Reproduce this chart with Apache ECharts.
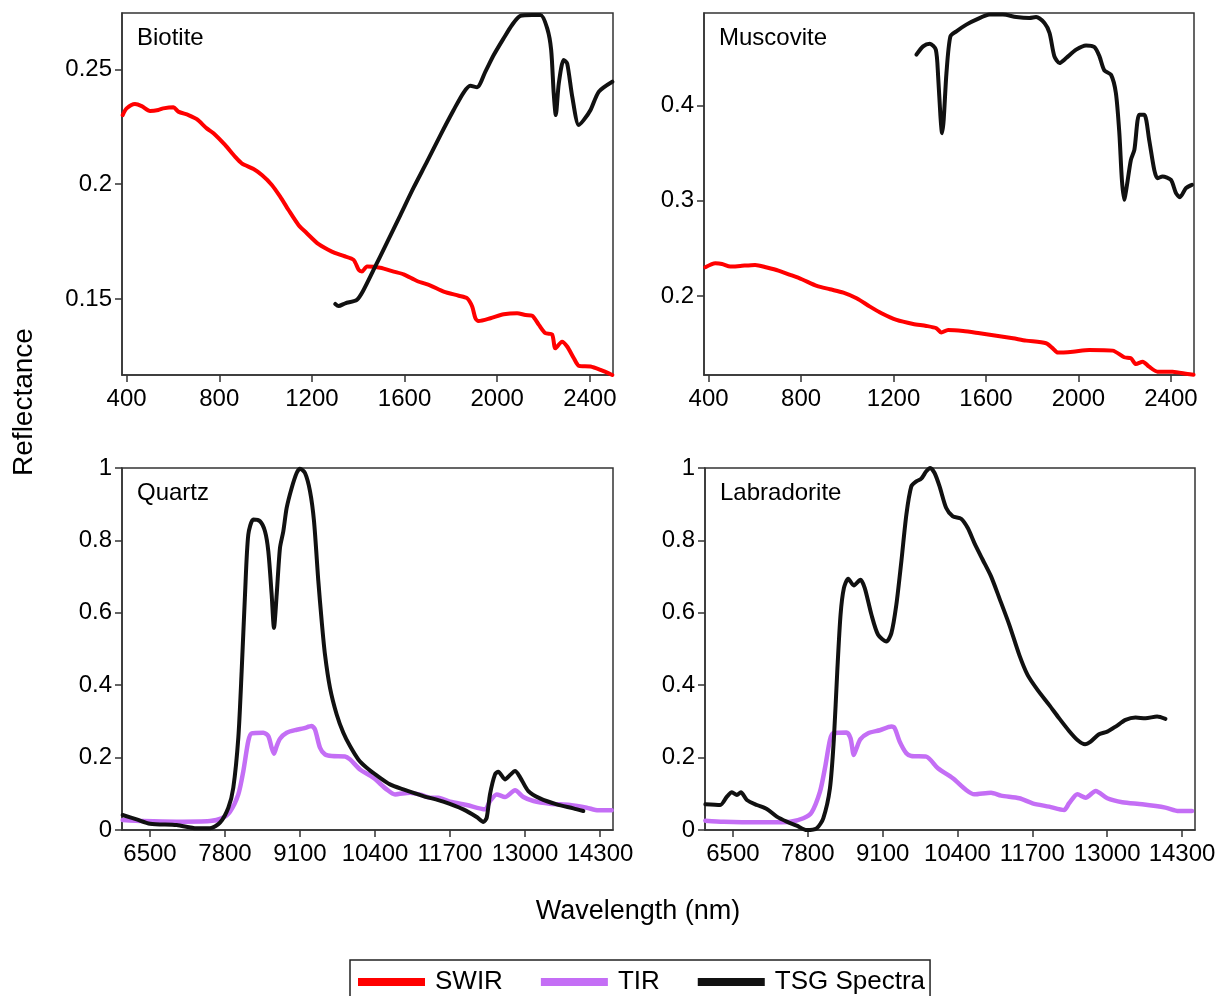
<!DOCTYPE html>
<html>
<head>
<meta charset="utf-8">
<script src="https://cdn.jsdelivr.net/npm/echarts@6/dist/echarts.min.js"></script>
<style>
  html, body { margin: 0; padding: 0; background: #fff; }
  #chart { width: 1220px; height: 996px; }
</style>
</head>
<body>
<div id="chart"></div>
<script>
// Biotite
const biotiteSwirWl = [383, 400, 436, 465, 501, 537, 558, 602, 623, 667, 703, 746, 775, 825, 868, 897, 948, 984, 1027, 1063, 1099, 1142, 1178, 1229, 1286, 1337, 1380, 1402, 1416, 1438, 1495, 1553, 1596, 1654, 1712, 1769, 1834, 1870, 1892, 1906, 1920, 1971, 2028, 2086, 2122, 2151, 2180, 2208, 2237, 2251, 2280, 2302, 2331, 2353, 2403, 2446, 2497]
const biotiteSwirR = [0.2301, 0.2330, 0.2349, 0.2340, 0.2319, 0.2323, 0.2330, 0.2335, 0.2316, 0.2301, 0.2283, 0.2243, 0.2222, 0.2171, 0.2120, 0.2091, 0.2066, 0.2040, 0.1997, 0.1946, 0.1888, 0.1823, 0.1787, 0.1739, 0.1707, 0.1688, 0.1671, 0.1627, 0.1620, 0.1642, 0.1637, 0.1620, 0.1608, 0.1579, 0.1559, 0.1533, 0.1515, 0.1504, 0.1468, 0.1417, 0.1405, 0.1417, 0.1434, 0.1439, 0.1431, 0.1428, 0.1388, 0.1352, 0.1347, 0.1286, 0.1315, 0.1294, 0.1243, 0.1210, 0.1207, 0.1192, 0.1170]
const biotiteTsgWl = [1301, 1315, 1344, 1394, 1423, 1466, 1524, 1582, 1639, 1697, 1755, 1812, 1855, 1884, 1913, 1949, 1985, 2028, 2064, 2100, 2151, 2187, 2216, 2233, 2244, 2253, 2266, 2287, 2302, 2324, 2352, 2374, 2403, 2439, 2497]
const biotiteTsgR = [0.1479, 0.1470, 0.1482, 0.1497, 0.1540, 0.1627, 0.1746, 0.1866, 0.1985, 0.2098, 0.2214, 0.2323, 0.2399, 0.2428, 0.2422, 0.2490, 0.2562, 0.2635, 0.2693, 0.2732, 0.2736, 0.2736, 0.2678, 0.2584, 0.2396, 0.2301, 0.2439, 0.2541, 0.2526, 0.2381, 0.2258, 0.2280, 0.2323, 0.2403, 0.2446]

// Muscovite
const muscoviteSwirWl = [386, 429, 458, 494, 537, 601, 652, 702, 753, 803, 868, 925, 983, 1040, 1098, 1148, 1213, 1285, 1342, 1386, 1407, 1436, 1501, 1573, 1645, 1717, 1774, 1860, 1889, 1911, 1976, 2047, 2148, 2198, 2227, 2249, 2278, 2306, 2342, 2407, 2472, 2498]
const muscoviteSwirR = [0.2301, 0.2343, 0.2336, 0.2308, 0.2315, 0.2326, 0.2298, 0.2266, 0.2221, 0.2175, 0.2105, 0.2070, 0.2035, 0.1976, 0.1888, 0.1818, 0.1748, 0.1706, 0.1685, 0.1660, 0.1615, 0.1643, 0.1632, 0.1608, 0.1583, 0.1555, 0.1531, 0.1503, 0.1450, 0.1405, 0.1415, 0.1433, 0.1426, 0.1356, 0.1345, 0.1285, 0.1310, 0.1257, 0.1205, 0.1205, 0.1180, 0.1172]
const muscoviteTsgWl = [1299, 1328, 1357, 1383, 1393, 1403, 1410, 1417, 1429, 1446, 1472, 1515, 1558, 1616, 1673, 1731, 1788, 1817, 1853, 1875, 1896, 1918, 1947, 1990, 2033, 2069, 2091, 2112, 2141, 2162, 2177, 2188, 2198, 2209, 2227, 2242, 2263, 2285, 2306, 2328, 2342, 2364, 2400, 2422, 2439, 2465, 2491]
const muscoviteTsgR = [0.4532, 0.4620, 0.4648, 0.4585, 0.4305, 0.3884, 0.3709, 0.3849, 0.4340, 0.4725, 0.4778, 0.4848, 0.4900, 0.4953, 0.4953, 0.4928, 0.4918, 0.4928, 0.4865, 0.4760, 0.4515, 0.4445, 0.4497, 0.4585, 0.4630, 0.4613, 0.4515, 0.4368, 0.4322, 0.4130, 0.3709, 0.3219, 0.3009, 0.3149, 0.3429, 0.3534, 0.3902, 0.3902, 0.3639, 0.3324, 0.3236, 0.3254, 0.3219, 0.3079, 0.3037, 0.3131, 0.3166]

// Quartz
const quartzTirWl = [6026, 6384, 6962, 7540, 7742, 7887, 8031, 8118, 8204, 8262, 8464, 8551, 8609, 8649, 8696, 8753, 8869, 9042, 9158, 9302, 9360, 9447, 9533, 9649, 9880, 9967, 10140, 10371, 10602, 10747, 11007, 11209, 11353, 11498, 11700, 11989, 12307, 12393, 12509, 12653, 12827, 12971, 13147, 13433, 13780, 14069, 14271, 14502]
const quartzTirR = [0.0276, 0.0248, 0.0230, 0.0248, 0.0322, 0.0506, 0.0984, 0.1628, 0.2456, 0.2668, 0.2686, 0.2594, 0.2272, 0.2107, 0.2318, 0.2521, 0.2686, 0.2769, 0.2806, 0.2870, 0.2778, 0.2272, 0.2088, 0.2042, 0.2033, 0.1950, 0.1674, 0.1444, 0.1122, 0.0984, 0.1030, 0.0966, 0.0892, 0.0892, 0.0782, 0.0690, 0.0570, 0.0800, 0.0984, 0.0911, 0.1095, 0.0911, 0.0800, 0.0727, 0.0690, 0.0616, 0.0543, 0.0543]
const quartzTsgWl = [6026, 6269, 6500, 6962, 7309, 7540, 7713, 7858, 7944, 8031, 8089, 8147, 8204, 8291, 8407, 8493, 8551, 8609, 8649, 8696, 8753, 8811, 8869, 8956, 9042, 9100, 9187, 9274, 9343, 9418, 9476, 9533, 9620, 9736, 9851, 9967, 10111, 10256, 10429, 10660, 10891, 11238, 11584, 11931, 12162, 12278, 12336, 12393, 12480, 12538, 12653, 12740, 12827, 12913, 13058, 13260, 13549, 13838, 14011]
const quartzTsgR = [0.0414, 0.0294, 0.0175, 0.0138, 0.0046, 0.0046, 0.0202, 0.0616, 0.1168, 0.2548, 0.4388, 0.6504, 0.8160, 0.8574, 0.8528, 0.8252, 0.7700, 0.6504, 0.5584, 0.6504, 0.7792, 0.8252, 0.8896, 0.9448, 0.9862, 0.9982, 0.9862, 0.9356, 0.8528, 0.6872, 0.5768, 0.4848, 0.3928, 0.3192, 0.2686, 0.2318, 0.1950, 0.1720, 0.1509, 0.1260, 0.1122, 0.0938, 0.0782, 0.0570, 0.0359, 0.0221, 0.0340, 0.0984, 0.1536, 0.1610, 0.1398, 0.1518, 0.1628, 0.1463, 0.1076, 0.0874, 0.0708, 0.0598, 0.0524]

// Labradorite
const labTirWl = [6021, 6338, 6915, 7492, 7723, 7867, 8012, 8098, 8185, 8242, 8473, 8542, 8600, 8646, 8715, 8848, 9050, 9252, 9310, 9396, 9512, 9598, 9858, 10060, 10319, 10550, 10694, 10983, 11156, 11473, 11704, 11992, 12252, 12338, 12483, 12627, 12800, 13002, 13262, 13608, 14012, 14242, 14473]
const labTirR = [0.0258, 0.0230, 0.0212, 0.0230, 0.0323, 0.0488, 0.1060, 0.1705, 0.2488, 0.2673, 0.2691, 0.2535, 0.2074, 0.2258, 0.2507, 0.2673, 0.2756, 0.2857, 0.2811, 0.2442, 0.2120, 0.2046, 0.2028, 0.1705, 0.1429, 0.1106, 0.0986, 0.1032, 0.0949, 0.0876, 0.0737, 0.0645, 0.0553, 0.0737, 0.0986, 0.0894, 0.1078, 0.0876, 0.0765, 0.0710, 0.0618, 0.0525, 0.0525]
const labTsgWl = [6021, 6281, 6396, 6483, 6569, 6638, 6742, 6915, 7088, 7262, 7435, 7608, 7781, 7954, 8069, 8185, 8254, 8312, 8369, 8427, 8502, 8600, 8715, 8790, 8906, 9021, 9165, 9252, 9338, 9425, 9512, 9598, 9685, 9771, 9858, 9927, 10002, 10089, 10204, 10319, 10463, 10579, 10694, 10838, 10983, 11127, 11300, 11473, 11617, 11790, 11992, 12165, 12338, 12483, 12615, 12713, 12858, 13002, 13146, 13319, 13492, 13665, 13867, 14012]
const labTsgR = [0.0710, 0.0691, 0.0922, 0.1041, 0.0968, 0.1041, 0.0829, 0.0691, 0.0581, 0.0369, 0.0230, 0.0120, 0.0000, 0.0046, 0.0323, 0.1152, 0.2535, 0.4378, 0.5945, 0.6682, 0.6940, 0.6756, 0.6912, 0.6682, 0.5945, 0.5392, 0.5207, 0.5438, 0.6221, 0.7419, 0.8710, 0.9493, 0.9631, 0.9705, 0.9908, 1.0000, 0.9862, 0.9493, 0.8894, 0.8664, 0.8599, 0.8341, 0.7926, 0.7465, 0.7005, 0.6406, 0.5668, 0.4839, 0.4286, 0.3871, 0.3456, 0.3088, 0.2737, 0.2488, 0.2369, 0.2442, 0.2645, 0.2719, 0.2857, 0.3041, 0.3106, 0.3088, 0.3134, 0.3069]

// tick labels
const swirTicks = [400, 800, 1200, 1600, 2000, 2400]
const tirTicks = [6500, 7800, 9100, 10400, 11700, 13000, 14300]
const biotiteYTicks = [0.15, 0.2, 0.25]
const muscoviteYTicks = [0.2, 0.3, 0.4]
const tirYTicks = [0, 0.2, 0.4, 0.6, 0.8, 1]

const panelNames = ['Biotite', 'Muscovite', 'Quartz', 'Labradorite']

const SWIR_COLOR = '#ff0000'
const TIR_COLOR = '#c46ef5'
const TSG_COLOR = '#111111'
const FONT = 'Liberation Sans, Arial, Helvetica, sans-serif'

function pairs (xs, ys) {
  return xs.map((x, i) => [x, ys[i]])
}

const grids = [
  { left: 122, top: 13, width: 491, height: 362 },
  { left: 704, top: 13, width: 490, height: 362 },
  { left: 122, top: 468, width: 491, height: 362 },
  { left: 705, top: 468, width: 490, height: 362 }
].map(g => Object.assign(g, {
  show: true,
  borderColor: '#333',
  borderWidth: 1.5,
  outerBoundsMode: 'none'
}))

const plain = v => String(v)

function xAxisFor (idx, min, max, ticks) {
  return {
    type: 'value',
    gridIndex: idx,
    min: min,
    max: max,
    axisLine: { show: true, lineStyle: { color: '#333', width: 1.5 } },
    axisTick: { show: true, length: 7, lineStyle: { color: '#333', width: 1.5 }, customValues: ticks },
    axisLabel: { color: '#000', fontSize: 24, fontFamily: FONT, margin: 12, customValues: ticks, formatter: plain },
    splitLine: { show: false }
  }
}

function yAxisFor (idx, min, max, ticks) {
  return {
    type: 'value',
    gridIndex: idx,
    min: min,
    max: max,
    axisLine: { show: true, lineStyle: { color: '#333', width: 1.5 } },
    axisTick: { show: true, length: 7, lineStyle: { color: '#333', width: 1.5 }, customValues: ticks },
    axisLabel: { color: '#000', fontSize: 24, fontFamily: FONT, margin: 10, customValues: ticks, formatter: plain },
    splitLine: { show: false }
  }
}

function lineSeries (name, idx, data, color, width) {
  return {
    name: name,
    type: 'line',
    xAxisIndex: idx,
    yAxisIndex: idx,
    data: data,
    showSymbol: false,
    smooth: 0.25,
    color: color,
    lineStyle: { color: color, width: width, cap: 'round', join: 'round' },
    emphasis: { disabled: true },
    animation: false
  }
}

const chart = echarts.init(document.getElementById('chart'))

const option = {
  backgroundColor: '#fff',
  animation: false,
  title: panelNames.map((name, i) => ({
    text: name,
    left: grids[i].left + 15,
    top: grids[i].top + 13,
    padding: 0,
    textStyle: { fontSize: 24, fontWeight: 'normal', color: '#000', fontFamily: FONT }
  })),
  legend: {
    data: ['SWIR', 'TIR', 'TSG Spectra'],
    left: 350,
    top: 960,
    orient: 'horizontal',
    icon: 'rect',
    itemWidth: 67,
    itemHeight: 8,
    itemGap: 38,
    padding: [9, 5, 40, 8],
    borderColor: '#222',
    borderWidth: 1.5,
    selectedMode: false,
    textStyle: { fontSize: 26, color: '#000', fontFamily: FONT, padding: [0, 0, 0, 5] }
  },
  grid: grids,
  xAxis: [
    xAxisFor(0, 380, 2500, swirTicks),
    xAxisFor(1, 380, 2500, swirTicks),
    xAxisFor(2, 6015, 14525, tirTicks),
    xAxisFor(3, 6015, 14525, tirTicks)
  ],
  yAxis: [
    yAxisFor(0, 0.117, 0.2745, biotiteYTicks),
    yAxisFor(1, 0.117, 0.497, muscoviteYTicks),
    yAxisFor(2, 0, 1, tirYTicks),
    yAxisFor(3, 0, 1, tirYTicks)
  ],
  graphic: [
    {
      type: 'text',
      x: 24,
      y: 402,
      rotation: Math.PI / 2,
      style: { text: 'Reflectance', font: '28px ' + FONT, fill: '#000', textAlign: 'center', textVerticalAlign: 'middle' }
    },
    {
      type: 'text',
      x: 638,
      y: 912,
      style: { text: 'Wavelength (nm)', font: '27px ' + FONT, fill: '#000', textAlign: 'center', textVerticalAlign: 'middle' }
    }
  ],
  series: [
    lineSeries('SWIR', 0, pairs(biotiteSwirWl, biotiteSwirR), SWIR_COLOR, 4),
    lineSeries('TSG Spectra', 0, pairs(biotiteTsgWl, biotiteTsgR), TSG_COLOR, 4),
    lineSeries('SWIR', 1, pairs(muscoviteSwirWl, muscoviteSwirR), SWIR_COLOR, 4),
    lineSeries('TSG Spectra', 1, pairs(muscoviteTsgWl, muscoviteTsgR), TSG_COLOR, 4),
    lineSeries('TIR', 2, pairs(quartzTirWl, quartzTirR), TIR_COLOR, 4.5),
    lineSeries('TSG Spectra', 2, pairs(quartzTsgWl, quartzTsgR), TSG_COLOR, 4),
    lineSeries('TIR', 3, pairs(labTirWl, labTirR), TIR_COLOR, 4.5),
    lineSeries('TSG Spectra', 3, pairs(labTsgWl, labTsgR), TSG_COLOR, 4)
  ]
}

chart.setOption(option)
</script>
</body>
</html>
